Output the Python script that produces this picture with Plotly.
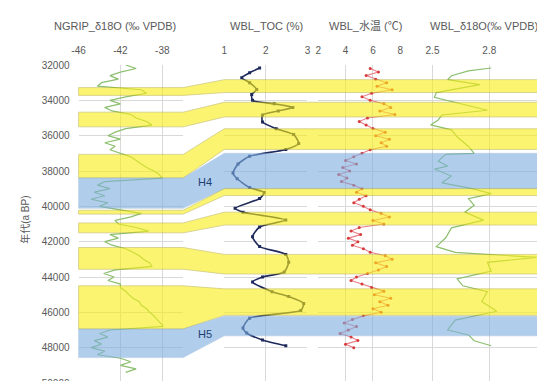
import plotly.graph_objects as go

W, H = 545, 381

# ---------------- data ----------------
ngrip_age = [32000, 32200, 32400, 32600, 32800, 33000, 33200, 33400, 33600, 33800,
             34000, 34200, 34400, 34600, 34800, 35000, 35200, 35400, 35600, 35800,
             36000, 36200, 36400, 36600, 36800, 37000, 37200, 37400, 37600, 37800,
             38000, 38200, 38400, 38600, 38800, 39000, 39200, 39400, 39600, 39800,
             40000, 40200, 40400, 40600, 40800, 41000, 41200, 41400, 41600, 41800,
             42000, 42200, 42400, 42600, 42800, 43000, 43200, 43400, 43600, 43800,
             44000, 44200, 44400, 44600, 44800, 45000, 45200, 45400, 45600, 45800,
             46000, 46200, 46400, 46600, 46800, 47000, 47200, 47400, 47600, 47800,
             48000, 48200, 48400, 48600, 48800, 49000, 49200, 49400]
ngrip_d18o = [-41.5, -40.5, -42.0, -43.0, -42.2, -43.8, -44.2, -40.0, -39.5, -41.5,
              -43.0, -42.0, -43.5, -42.8, -41.0, -40.5, -39.5, -39.0, -41.5, -42.5,
              -43.2, -42.0, -43.5, -42.5, -43.0, -42.0, -41.0, -40.5, -40.0, -39.5,
              -38.8, -38.3, -38.0, -43.5, -44.2, -43.0, -44.5, -43.5, -44.8, -43.2,
              -44.0, -42.0, -40.0, -41.0, -42.5, -42.2, -40.5, -39.3, -43.0, -42.2,
              -43.5, -42.8, -41.5, -40.8, -40.2, -39.8, -39.2, -39.0, -42.5, -43.6,
              -42.6, -43.2, -42.0, -42.0, -41.5, -41.2, -40.8, -40.2, -40.0, -39.5,
              -39.2, -38.8, -38.5, -38.2, -37.9, -43.0, -44.0, -43.2, -44.5, -43.8,
              -44.8, -43.5, -44.2, -42.0, -41.0, -42.0, -40.5, -41.5]

toc_age = [32170, 32440, 32720, 33000, 33390, 33670, 34000, 34200, 34400, 34600,
           34830, 35220, 35610, 35940, 36440, 36780, 37170, 37610, 38110, 38440,
           38940, 39220, 39560, 40110, 40330, 40780, 41170, 41720, 42280, 42720,
           43170, 43720, 44000, 44280, 44830, 45110, 45500, 45890, 46330, 46890,
           47170, 47560, 47890]
toc_val = [1.85, 1.61, 1.42, 1.61, 1.78, 1.66, 1.68, 2.20, 2.65, 2.30,
           1.92, 1.92, 2.25, 2.67, 2.79, 2.48, 1.61, 1.33, 1.21, 1.31,
           1.61, 1.96, 1.85, 1.26, 1.45, 2.48, 1.85, 1.68, 1.85, 2.48,
           2.55, 2.44, 1.92, 1.68, 2.15, 2.55, 2.91, 2.84, 1.61, 1.45,
           1.54, 1.92, 2.48]

temp_age = [32200, 32400, 32600, 32800, 33000, 33200, 33400, 33600, 33800, 34000,
            34200, 34400, 34600, 34800, 35000, 35200, 35400, 35600, 35800, 36000,
            36200, 36400, 36600, 36800, 37000, 37200, 37400, 37600, 37800, 38000,
            38200, 38400, 38600, 38800, 39000, 39200, 39400, 39600, 39800, 40000,
            40200, 40400, 40600, 40800, 41000, 41200, 41400, 41600, 41800, 42000,
            42200, 42400, 42600, 42800, 43000, 43200, 43400, 43600, 43800, 44000,
            44200, 44400, 44600, 44800, 45000, 45200, 45400, 45600, 45800, 46000,
            46200, 46400, 46600, 46800, 47000, 47200, 47400, 47600, 47800, 48000]
temp_val = [5.8, 6.4, 5.5, 6.2, 7.0, 6.3, 7.4, 5.9, 5.2, 5.8,
            6.8, 7.3, 6.5, 7.6, 5.6, 5.0, 5.5, 6.0, 6.9, 6.2,
            7.2, 6.6, 7.0, 5.8, 5.2, 4.6, 4.0, 4.8, 3.8, 4.3,
            3.5, 4.1, 3.7, 4.6, 5.2, 4.8, 5.5, 5.0, 4.6, 5.3,
            5.8, 6.6, 7.2, 6.0, 6.8, 5.0, 4.4, 5.1, 4.2, 4.9,
            4.5, 5.3, 5.8, 6.9, 7.4, 6.2, 7.0, 6.4, 5.6, 4.8,
            4.4, 5.2, 5.9, 6.8, 6.1, 7.3, 6.5, 7.1, 6.0, 6.6,
            5.3, 4.5, 3.9, 4.8, 4.2, 3.6, 4.4, 4.9, 4.0, 4.6]

wbl_age = [32170, 32330, 32610, 32830, 33110, 33560, 33830, 34220, 34560, 34830,
           35110, 35390, 35670, 36060, 36610, 37000, 37060, 37440, 37720, 37890,
           38280, 38670, 39000, 39280, 39560, 39940, 40330, 40780, 41220, 41780,
           42280, 42610, 42890, 43170, 43670, 44110, 44500, 44830, 45390, 45940,
           46440, 47000, 47280, 47610, 47890]
wbl_d18o = [2.81, 2.69, 2.60, 2.58, 2.75, 2.52, 2.51, 2.66, 2.79, 2.55,
            2.53, 2.49, 2.60, 2.63, 2.69, 2.72, 2.57, 2.53, 2.58, 2.51,
            2.60, 2.55, 2.71, 2.81, 2.69, 2.72, 2.67, 2.77, 2.60, 2.57,
            2.52, 2.62, 3.05, 2.79, 2.81, 2.63, 2.66, 2.79, 2.76, 2.84,
            2.62, 2.58, 2.69, 2.72, 2.81]

# climate bands: NGRIP (left) ages and WBL (right) ages
band_kind = ["Y", "Y", "Y", "B", "Y", "Y", "Y", "Y", "B"]
band_left_top = [33280, 34670, 37060, 38390, 40220, 40940, 42330, 44500, 46940]
band_left_bot = [33720, 35500, 38390, 40110, 40440, 41500, 43560, 46940, 48560]
band_right_top = [32830, 34110, 35610, 37000, 39000, 40330, 42720, 44670, 46220]
band_right_bot = [33560, 34940, 36780, 39000, 39390, 41060, 43830, 46170, 47330]

band_labels = ["H4", "H5"]
band_label_age = [38610, 47220]

y_ticks = [32000, 34000, 36000, 38000, 40000, 42000, 44000, 46000, 48000, 50000]

# ---------------- layout helpers ----------------
def px(x):
    return x / W

TOP, BOT = 57, 381
def py(p):
    return (BOT - p) / (BOT - TOP)

FONT = "Liberation Sans, Arial, Noto Sans CJK SC, sans-serif"
GRID = "#d9d9d9"
TICKC = "#595959"

fig = go.Figure()

fig.add_trace(go.Scatter(x=ngrip_d18o, y=ngrip_age, xaxis="x", yaxis="y", mode="lines",
                         line=dict(color="#8cbf6e", width=1.2), showlegend=False))
fig.add_trace(go.Scatter(x=toc_val, y=toc_age, xaxis="x2", yaxis="y", mode="lines+markers",
                         line=dict(color="#1f2a5c", width=1.6, shape="spline", smoothing=0.6),
                         marker=dict(color="#1f2a5c", size=3, symbol="square"),
                         showlegend=False))
fig.add_trace(go.Scatter(x=temp_val, y=temp_age, xaxis="x3", yaxis="y", mode="lines+markers",
                         line=dict(color="#e8808a", width=1.1),
                         marker=dict(color="#d83a3a", size=3),
                         showlegend=False))
fig.add_trace(go.Scatter(x=wbl_d18o, y=wbl_age, xaxis="x4", yaxis="y", mode="lines",
                         line=dict(color="#8cbf6e", width=1.2), showlegend=False))

shapes = []
for k, lt, lb, rt, rb in zip(band_kind, band_left_top, band_left_bot, band_right_top, band_right_bot):
    fill = "rgb(250,238,20)" if k == "Y" else "rgb(125,175,225)"
    edge = "rgba(170,160,40,0.9)" if k == "Y" else "rgba(120,160,205,0.6)"
    path = (f"M {px(65)},{lt} L {px(172)},{lt} L {px(214)},{rt} L {px(545)},{rt} "
            f"L {px(545)},{rb} L {px(214)},{rb} L {px(172)},{lb} L {px(65)},{lb} Z")
    shapes.append(dict(type="path", path=path, xref="paper", yref="y",
                       fillcolor=fill, opacity=0.6, layer="above",
                       line=dict(color=edge, width=0.8)))

annotations = [
    dict(text="NGRIP_δ18O (‰ VPDB)", x=px(102), y=py(17)),
    dict(text="WBL_TOC (%)", x=px(257), y=py(17)),
    dict(text="WBL_水温 (℃)", x=px(358), y=py(17)),
    dict(text="WBL_δ18O(‰ VPDB)", x=px(480), y=py(17)),
]
for a in annotations:
    a.update(xref="paper", yref="paper", showarrow=False, xanchor="center", yanchor="middle",
             font=dict(size=11, color=TICKC, family=FONT))
for lab, age in zip(band_labels, band_label_age):
    annotations.append(dict(text=lab, x=px(194), y=age, xref="paper", yref="y", showarrow=False,
                            xanchor="center", yanchor="middle",
                            font=dict(size=11, color="#1f3f73", family=FONT)))
annotations.append(dict(text="年代(a BP)", x=px(10), y=py(215), xref="paper", yref="paper",
                        showarrow=False, textangle=-90, xanchor="center", yanchor="middle",
                        font=dict(size=10, color=TICKC, family=FONT)))

def xax(domain, rng, tickvals, ticktext=None):
    d = dict(domain=[px(domain[0]), px(domain[1])], range=rng, tickvals=tickvals,
             side="top", anchor="y", showgrid=True, gridcolor=GRID, gridwidth=1,
             zeroline=False, showline=False, ticks="", ticklabelstandoff=8,
             ticklabeloverflow="allow",
             tickfont=dict(size=10, color=TICKC, family=FONT))
    if ticktext is not None:
        d["ticktext"] = ticktext
    return d

fig.update_layout(
    width=W, height=H,
    margin=dict(l=0, r=0, t=TOP, b=H - BOT),
    paper_bgcolor="white", plot_bgcolor="white",
    font=dict(family=FONT),
    xaxis=xax((65, 172), [-46, -36], [-46, -42, -38, -36], ["-46", "-42", "-38", ""]),
    xaxis2=xax((214, 299), [1, 3], [1, 2, 3]),
    xaxis3=xax((310, 394), [2, 8], [2, 4, 6, 8]),
    xaxis4=xax((394, 545), [2.33, 3.11], [2.5, 2.8, 3.1]),
    yaxis=dict(domain=[0, 1], range=[50000, 32000], tickvals=y_ticks, anchor="x",
               tickformat="d",
               showgrid=True, gridcolor=GRID, zeroline=False, showline=False,
               ticks="", ticklabelstandoff=8, ticklabeloverflow="allow",
               tickfont=dict(size=10, color=TICKC, family=FONT)),
    shapes=shapes,
    annotations=annotations,
)

fig.write_html("out.html")
